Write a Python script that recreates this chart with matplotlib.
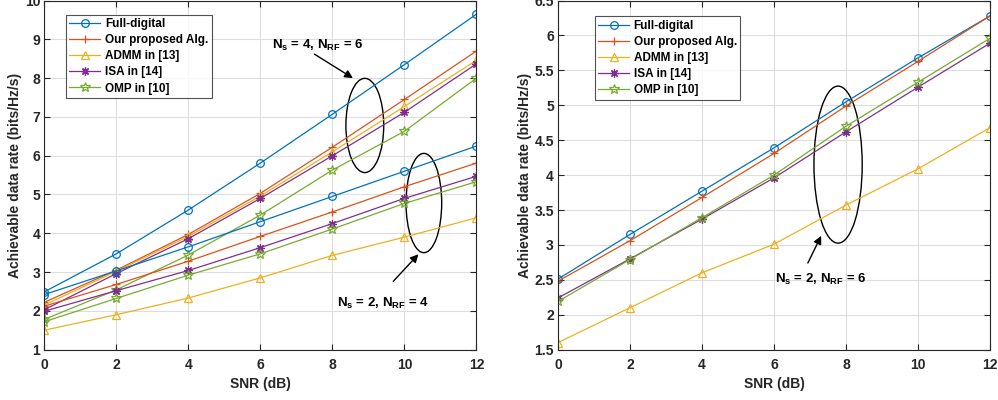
import matplotlib
matplotlib.use('Agg')
import matplotlib.pyplot as plt
from matplotlib.patches import Ellipse

plt.rcParams['font.family'] = ['Liberation Sans', 'DejaVu Sans']
plt.rcParams['font.weight'] = 'bold'
plt.rcParams['mathtext.fontset'] = 'custom'
plt.rcParams['mathtext.rm'] = 'Liberation Sans:bold'
plt.rcParams['mathtext.it'] = 'Liberation Sans:bold'
plt.rcParams['mathtext.bf'] = 'Liberation Sans:bold'

# SNR 轴
snr = [0, 2, 4, 6, 8, 10, 12]

# 左图: Ns = 4, NRF = 6
fd_a = [2.49, 3.47, 4.60, 5.81, 7.07, 8.35, 9.65]
prop_a = [2.22, 3.05, 3.97, 5.03, 6.22, 7.45, 8.70]
admm_a = [2.15, 3.02, 3.92, 4.96, 6.10, 7.27, 8.46]
isa_a = [2.03, 2.96, 3.86, 4.90, 6.00, 7.12, 8.37]
omp_a = [1.78, 2.54, 3.44, 4.47, 5.63, 6.63, 8.00]

# 左图: Ns = 2, NRF = 4
fd_b = [2.42, 3.03, 3.65, 4.30, 4.95, 5.60, 6.25]
prop_b = [2.12, 2.68, 3.28, 3.92, 4.55, 5.20, 5.81]
admm_b = [1.50, 1.90, 2.33, 2.85, 3.43, 3.90, 4.40]
isa_b = [1.99, 2.52, 3.04, 3.63, 4.25, 4.90, 5.47]
omp_b = [1.72, 2.32, 2.92, 3.47, 4.11, 4.77, 5.33]

# 右图: Ns = 2, NRF = 6
fd_c = [2.51, 3.15, 3.77, 4.39, 5.05, 5.68, 6.28]
prop_c = [2.48, 3.06, 3.68, 4.31, 4.99, 5.63, 6.28]
admm_c = [1.60, 2.10, 2.60, 3.01, 3.57, 4.09, 4.68]
isa_c = [2.24, 2.80, 3.37, 3.96, 4.62, 5.26, 5.89]
omp_c = [2.19, 2.79, 3.39, 4.00, 4.70, 5.33, 5.96]

labels = ['Full-digital', 'Our proposed Alg.', 'ADMM in [13]', 'ISA in [14]', 'OMP in [10]']
colors = ['#0072BD', '#D95319', '#EDB120', '#7E2F8E', '#77AC30']
markers = ['o', '+', '^', (8, 2, 0), '*']
msizes = [5.5, 6, 5.5, 6, 7.5]

fig = plt.figure(figsize=(9.98, 4.0), dpi=100)
ax1 = fig.add_axes([0.0444, 0.126, 0.433, 0.8725])
ax2 = fig.add_axes([0.5591, 0.126, 0.4329, 0.8725])


def draw(ax, series, with_label):
    for i, y in enumerate(series):
        ax.plot(snr, y, color=colors[i], marker=markers[i], markersize=msizes[i],
                markerfacecolor='none', markeredgewidth=0.9, linewidth=0.9,
                label=labels[i] if with_label else None)


draw(ax1, [fd_a, prop_a, admm_a, isa_a, omp_a], True)
draw(ax1, [fd_b, prop_b, admm_b, isa_b, omp_b], False)
draw(ax2, [fd_c, prop_c, admm_c, isa_c, omp_c], True)

ax1.set_xlim(0, 12)
ax1.set_ylim(1, 10)
ax1.set_yticks(range(1, 11))
ax2.set_xlim(0, 12)
ax2.set_ylim(1.5, 6.5)
ax2.set_yticks([1.5, 2, 2.5, 3, 3.5, 4, 4.5, 5, 5.5, 6, 6.5])
ax2.set_yticklabels(['1.5', '2', '2.5', '3', '3.5', '4', '4.5', '5', '5.5', '6', '6.5'])

for ax in (ax1, ax2):
    ax.set_xticks(snr)
    ax.grid(True, color='#dedede', linewidth=0.8)
    ax.set_axisbelow(True)
    ax.tick_params(direction='in', length=4, width=0.8, top=True, right=True,
                   labelsize=10, colors='#262626')
    ax.tick_params(axis='x', pad=6)
    ax.tick_params(axis='y', pad=3)
    for s in ax.spines.values():
        s.set_color('#262626')
        s.set_linewidth(0.8)
    ax.set_xlabel('SNR (dB)', fontsize=10, fontweight='bold', color='#262626', labelpad=4)
    ax.set_ylabel('Achievable data rate (bits/Hz/s)', fontsize=10, fontweight='bold',
                  color='#262626', labelpad=2)
    leg = ax.legend(loc='upper left', fontsize=8.5, frameon=True, fancybox=False,
                    edgecolor='#262626', borderpad=0.3, handlelength=2.6,
                    labelspacing=0.35, handletextpad=0.4, borderaxespad=0)
    leg.get_frame().set_linewidth(0.8)

ax1.legend_.set_bbox_to_anchor((0.05, 0.96))
ax2.legend_.set_bbox_to_anchor((0.085, 0.955))

# 椭圆和标注
ax1.add_patch(Ellipse((8.9, 6.78), 1.05, 2.43, fill=False, edgecolor='black', linewidth=1))
ax1.add_patch(Ellipse((10.54, 4.78), 0.99, 2.56, fill=False, edgecolor='black', linewidth=1))
ax2.add_patch(Ellipse((7.78, 4.15), 1.34, 2.25, fill=False, edgecolor='black', linewidth=1))

arrow = dict(arrowstyle='-|>', color='black', lw=1, mutation_scale=12, shrinkA=0, shrinkB=0)
ax1.annotate('', xy=(8.57, 8.0), xytext=(7.5, 8.62), arrowprops=arrow)
ax1.text(7.6, 8.85, r'$\mathregular{N_s}$ = 4, $\mathregular{N_{RF}}$ = 6', fontsize=9.5,
         fontweight='bold', ha='center', va='center')
ax1.annotate('', xy=(10.39, 3.46), xytext=(9.69, 2.76), arrowprops=arrow)
ax1.text(9.41, 2.2, r'$\mathregular{N_s}$ = 2, $\mathregular{N_{RF}}$ = 4', fontsize=9.5,
         fontweight='bold', ha='center', va='center')
ax2.annotate('', xy=(7.31, 3.13), xytext=(6.94, 2.74), arrowprops=arrow)
ax2.text(7.3, 2.5, r'$\mathregular{N_s}$ = 2, $\mathregular{N_{RF}}$ = 6', fontsize=9.5,
         fontweight='bold', ha='center', va='center')

fig.savefig('out.png', dpi=100)
